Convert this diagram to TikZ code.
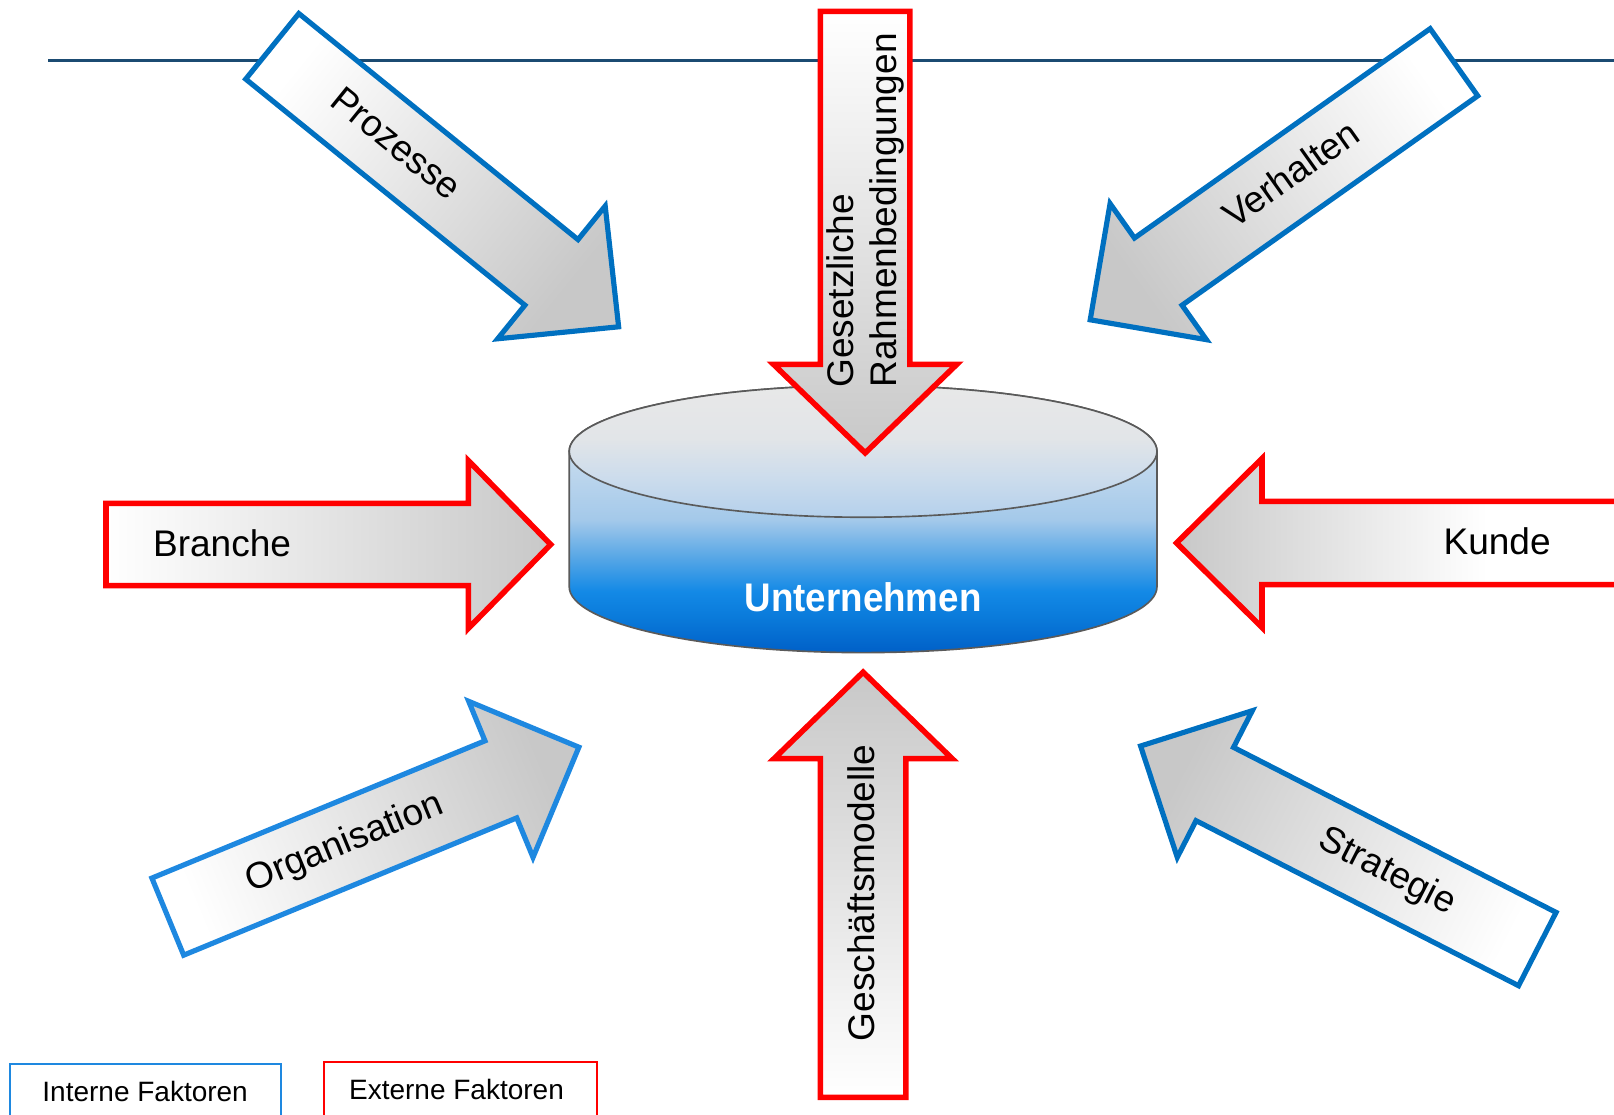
\documentclass[tikz,border=0pt]{standalone}
\usepackage{fontspec}
\setmainfont{Liberation Sans}
\definecolor{agray}{HTML}{C8C8C8}
\definecolor{redc}{HTML}{FF0000}
\definecolor{bluec}{HTML}{0070C0}
\definecolor{blueb}{HTML}{1E88E0}
\definecolor{navy}{HTML}{1B4B72}
\definecolor{cyledge}{HTML}{5A5A5A}
\definecolor{cb0}{HTML}{0060C8}
\definecolor{cb1}{HTML}{0A7ADA}
\definecolor{cb2}{HTML}{1389E6}
\definecolor{cb3}{HTML}{5AA8E6}
\definecolor{cb4}{HTML}{A4C9EA}
\definecolor{cb5}{HTML}{C8DCEE}
\definecolor{cb6}{HTML}{D0E0F0}
\definecolor{ct0}{HTML}{B4D0EC}
\definecolor{ct1}{HTML}{CCDCEC}
\definecolor{ct2}{HTML}{E2E5E8}
\definecolor{ct3}{HTML}{E8E8E8}
\pgfdeclareverticalshading{arrowsh}{100bp}{color(0bp)=(white); color(25bp)=(white); color(75bp)=(agray); color(100bp)=(agray)}
\pgfdeclareverticalshading{kundesh}{100bp}{color(0bp)=(white); color(25bp)=(white); color(42bp)=(white); color(75bp)=(agray); color(100bp)=(agray)}
\pgfdeclareverticalshading{cylbody}{100bp}{color(0bp)=(cb0); color(25bp)=(cb0); color(31.5bp)=(cb1); color(36.4bp)=(cb2); color(43.1bp)=(cb3); color(49.9bp)=(cb4); color(62.6bp)=(cb5); color(75bp)=(cb6); color(100bp)=(cb6)}
\pgfdeclareverticalshading{cyltop}{100bp}{color(0bp)=(ct0); color(25bp)=(ct0); color(40bp)=(ct1); color(55bp)=(ct2); color(75bp)=(ct3); color(100bp)=(ct3)}

% #1 style, #2 x0, #3 y0 (tail middle), #4 angle, #5 shaft length, #6 half shaft width, #7 half head width, #8 head length
\newcommand\fatarrow[8]{%
  \pgfmathsetmacro\fca{cos(#4)}%
  \pgfmathsetmacro\fsa{sin(#4)}%
  \path[#1] ({#2-(#6)*\fsa},{#3+(#6)*\fca})
    -- ({#2+(#5)*\fca-(#6)*\fsa},{#3+(#5)*\fsa+(#6)*\fca})
    -- ({#2+(#5)*\fca-(#7)*\fsa},{#3+(#5)*\fsa+(#7)*\fca})
    -- ({#2+(#5+#8)*\fca},{#3+(#5+#8)*\fsa})
    -- ({#2+(#5)*\fca+(#7)*\fsa},{#3+(#5)*\fsa-(#7)*\fca})
    -- ({#2+(#5)*\fca+(#6)*\fsa},{#3+(#5)*\fsa-(#6)*\fca})
    -- ({#2+(#6)*\fsa},{#3-(#6)*\fca})
    -- cycle;%
}

\tikzset{
  fat/.style={line join=miter, miter limit=10, shade, shading=arrowsh},
  redarrow/.style={fat, draw=redc, line width=2.7pt, shading angle=#1},
  bluearrow/.style={fat, draw=bluec, line width=2.5pt, shading angle=#1},
  lbl/.style={font=\fontsize{18}{21.6}\selectfont, inner sep=0pt, text height=13pt, text depth=3.6pt},
  lgd/.style={font=\fontsize{13.6}{16}\selectfont, inner sep=0pt},
}

\begin{document}
\begin{tikzpicture}[x=0.5pt,y=0.5pt]
\useasboundingbox (0,0) rectangle (1568,1083);
\clip (0,0) rectangle (1568,1083);

% top rule
\coordinate (ruleL) at (47,1024);
\coordinate (ruleR) at (1570,1024);
\draw[navy, line width=1.4pt] (ruleL) -- (ruleR);

% cylinder "Unternehmen"
\path[shade, shading=cylbody, draw=cyledge, line width=0.8pt]
  (553,644.5) -- (553,513) arc[start angle=180, end angle=360, x radius=285.5, y radius=64]
  -- (1124,644.5) arc[start angle=0, end angle=180, x radius=285.5, y radius=64] -- cycle;
\path[shade, shading=cyltop, draw=cyledge, line width=0.8pt]
  (838.5,644.5) ellipse[x radius=285.5, y radius=64];
\node[font=\fontsize{19.4}{22}\selectfont\bfseries, text=white, inner sep=0pt, anchor=base, xscale=0.92]
  (unt) at (838.5,488.6) {Unternehmen};

% red arrows (external factors)
\fatarrow{redarrow=-90}{103}{554}{0}{352}{40}{81.5}{80}
\node[lbl, anchor=west] (branche) at (148.3,551.6) {Branche};

\path[fat, shading=kundesh, draw=redc, line width=2.7pt, shading angle=90]
  (1600,596) -- (1226,596) -- (1226,637.5) -- (1143,555.5) -- (1226,473.5) -- (1226,515) -- (1600,515) -- cycle;
\node[lbl, anchor=west] (kunde) at (1402,554) {Kunde};

\fatarrow{redarrow=-180}{840.5}{1072}{-90}{343}{43.5}{89}{86}
\node[lbl, anchor=west, rotate=90] (ges) at (819.6,706) {Gesetzliche};
\node[lbl, anchor=west, rotate=90] (rahmen) at (861.6,706) {Rahmenbedingungen};

\fatarrow{redarrow=0}{838.5}{17}{90}{329}{41.5}{86.5}{84}
\node[lbl, anchor=west, rotate=90] (gm) at (840.6,71) {Geschäftsmodelle};

% blue arrows (internal factors)
\fatarrow{bluearrow=-129}{264.5}{1038}{-39}{349}{41}{83}{84}
\node[lbl, rotate=-39] (proz) at (383.4,941.8) {Prozesse};

\fatarrow{bluearrow=125.3}{1412.5}{1022.5}{215.3}{352}{40}{81}{81}
\node[lbl, rotate=35.3] (verh) at (1255.8,911.5) {Verhalten};

\fatarrow{fat, draw=blueb, line width=2.5pt, shading angle=-67.6}{163}{192.5}{22.4}{350}{40.5}{82}{82}
\node[lbl, rotate=22.4] (org) at (335,263.4) {Organisation};

\fatarrow{bluearrow=62.9}{1493.5}{161}{152.9}{352}{40}{80}{81}
\node[lbl, rotate=-27.1] (strat) at (1347.5,235.7) {Strategie};

% legend
\draw[blueb, line width=1pt] (9.6,-20) rectangle (273,49.3);
\node[lgd, anchor=base] (intern) at (141,13.3) {Interne Faktoren};
\draw[redc, line width=1pt] (315,-20) rectangle (580,51.2);
\node[lgd, anchor=base] (extern) at (443.5,15) {Externe Faktoren};
\end{tikzpicture}
\end{document}
